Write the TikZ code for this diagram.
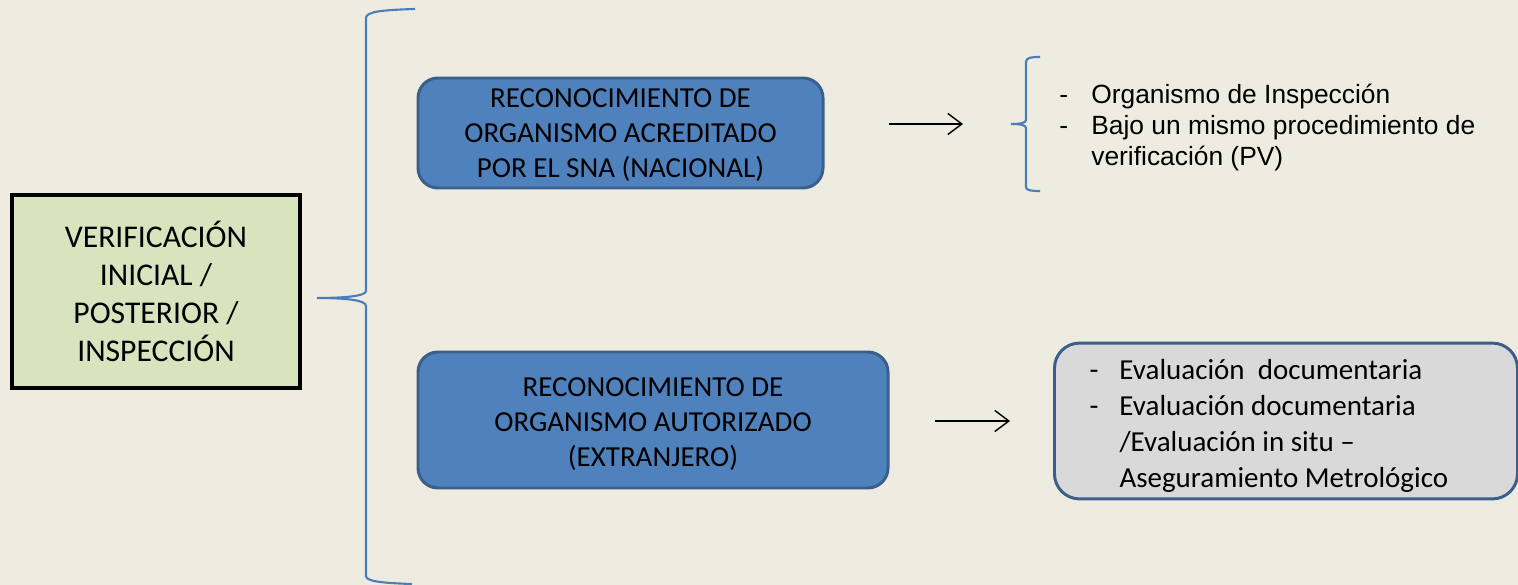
\documentclass[tikz,border=0pt]{standalone}
\usepackage{fontspec}
\setmainfont{Carlito}
\newfontfamily\arialfont{Liberation Sans}
\usepackage{tikz}
\usetikzlibrary{arrows.meta}
\definecolor{paper}{HTML}{EEECE1}
\definecolor{boxgreen}{HTML}{D7E4BD}
\definecolor{boxblue}{HTML}{4F81BD}
\definecolor{edgeblue}{HTML}{3A5F8B}
\definecolor{boxgray}{HTML}{D9D9D9}
\definecolor{bracecol}{HTML}{4A7EBB}
\newcommand{\lowered}[2]{\raisebox{-#1}[\height][\depth]{#2}}

\begin{document}
\begin{tikzpicture}[bluebox/.style={draw=edgeblue, fill=boxblue, line width=1.7pt, rounded corners=0.4cm, inner ysep=0pt, font=\fontsize{16.5}{20}\selectfont},
                    brace/.style={draw=bracecol, line width=1.2pt},
                    arr/.style={thick, -{Straight Barb[length=8pt,width=12pt]}}]
                \fill[paper] (0,0) rectangle (30.36,-11.7);
                \useasboundingbox (0,0) rectangle (30.36,-11.7);
                \begin{scope}[every node/.style={align=center}]
                        \node[draw=black, fill=boxgreen, line width=2.3pt, minimum width=5.76cm, minimum height=3.86cm, font=\fontsize{18}{21.6}\selectfont] (V) at (3.12,-5.83) {VERIFICACIÓN\\INICIAL /\\POSTERIOR /\\INSPECCIÓN};

                        \node[bluebox, minimum width=8.1cm, minimum height=2.2cm] (N) at (12.41,-2.66) {\lowered{0.05cm}{\begin{tabular}{@{}c@{}}RECONOCIMIENTO DE\\ORGANISMO ACREDITADO\\POR EL SNA (NACIONAL)\end{tabular}}};
                        \node[bluebox, minimum width=9.4cm, minimum height=2.72cm] (X) at (13.06,-8.4) {\lowered{0.09cm}{\begin{tabular}{@{}c@{}}RECONOCIMIENTO DE\\ORGANISMO AUTORIZADO\\(EXTRANJERO)\end{tabular}}};

                        \node[anchor=west, inner sep=0, font=\arialfont\fontsize{15}{17.6}\selectfont] (L) at (21.18,-2.56) {\begin{tabular}{@{}p{0.64cm}@{}l@{}}
                                - & Organismo de Inspección\\
                                - & Bajo un mismo procedimiento de\\
                                  & verificación (PV)
                        \end{tabular}};
                        \node[draw=edgeblue, fill=boxgray, line width=1.7pt, rounded corners=0.5cm, anchor=west, minimum height=3.04cm, text width=7.86cm, inner xsep=0.7cm, align=flush left, font=\fontsize{16.5}{20.5}\selectfont] (G) at (21.06,-8.42) {\lowered{0.1cm}{\begin{tabular}{@{}p{0.6cm}@{}l@{}}
                                - & Evaluación\ \ documentaria\\
                                - & Evaluación documentaria\\
                                  & /Evaluación in situ –\\
                                  & Aseguramiento Metrológico
                        \end{tabular}}};
                \end{scope}

                \coordinate (A1) at (17.78,-2.48);
                \coordinate (B1) at (19.26,-2.48);
                \coordinate (A2) at (18.7,-8.42);
                \coordinate (B2) at (20.2,-8.42);
                \draw[arr] (A1) -- (B1);
                \draw[arr] (A2) -- (B2);

                \draw[brace] (8.3,-0.18) .. controls (7.6,-0.2) and (7.32,-0.24) .. (7.32,-0.36) -- (7.32,-5.82)
                        .. controls (7.32,-5.92) and (6.9,-5.96) .. (6.34,-5.96)
                        .. controls (6.9,-5.96) and (7.32,-6.0) .. (7.32,-6.12) -- (7.32,-11.52)
                        .. controls (7.32,-11.62) and (7.6,-11.66) .. (8.24,-11.68);
                \draw[brace] (20.8,-1.14) .. controls (20.6,-1.14) and (20.52,-1.16) .. (20.52,-1.24) -- (20.52,-2.4)
                        .. controls (20.52,-2.46) and (20.4,-2.48) .. (20.22,-2.48)
                        .. controls (20.4,-2.48) and (20.52,-2.5) .. (20.52,-2.56) -- (20.52,-3.74)
                        .. controls (20.52,-3.8) and (20.6,-3.82) .. (20.8,-3.82);
        \end{tikzpicture}
\end{document}
